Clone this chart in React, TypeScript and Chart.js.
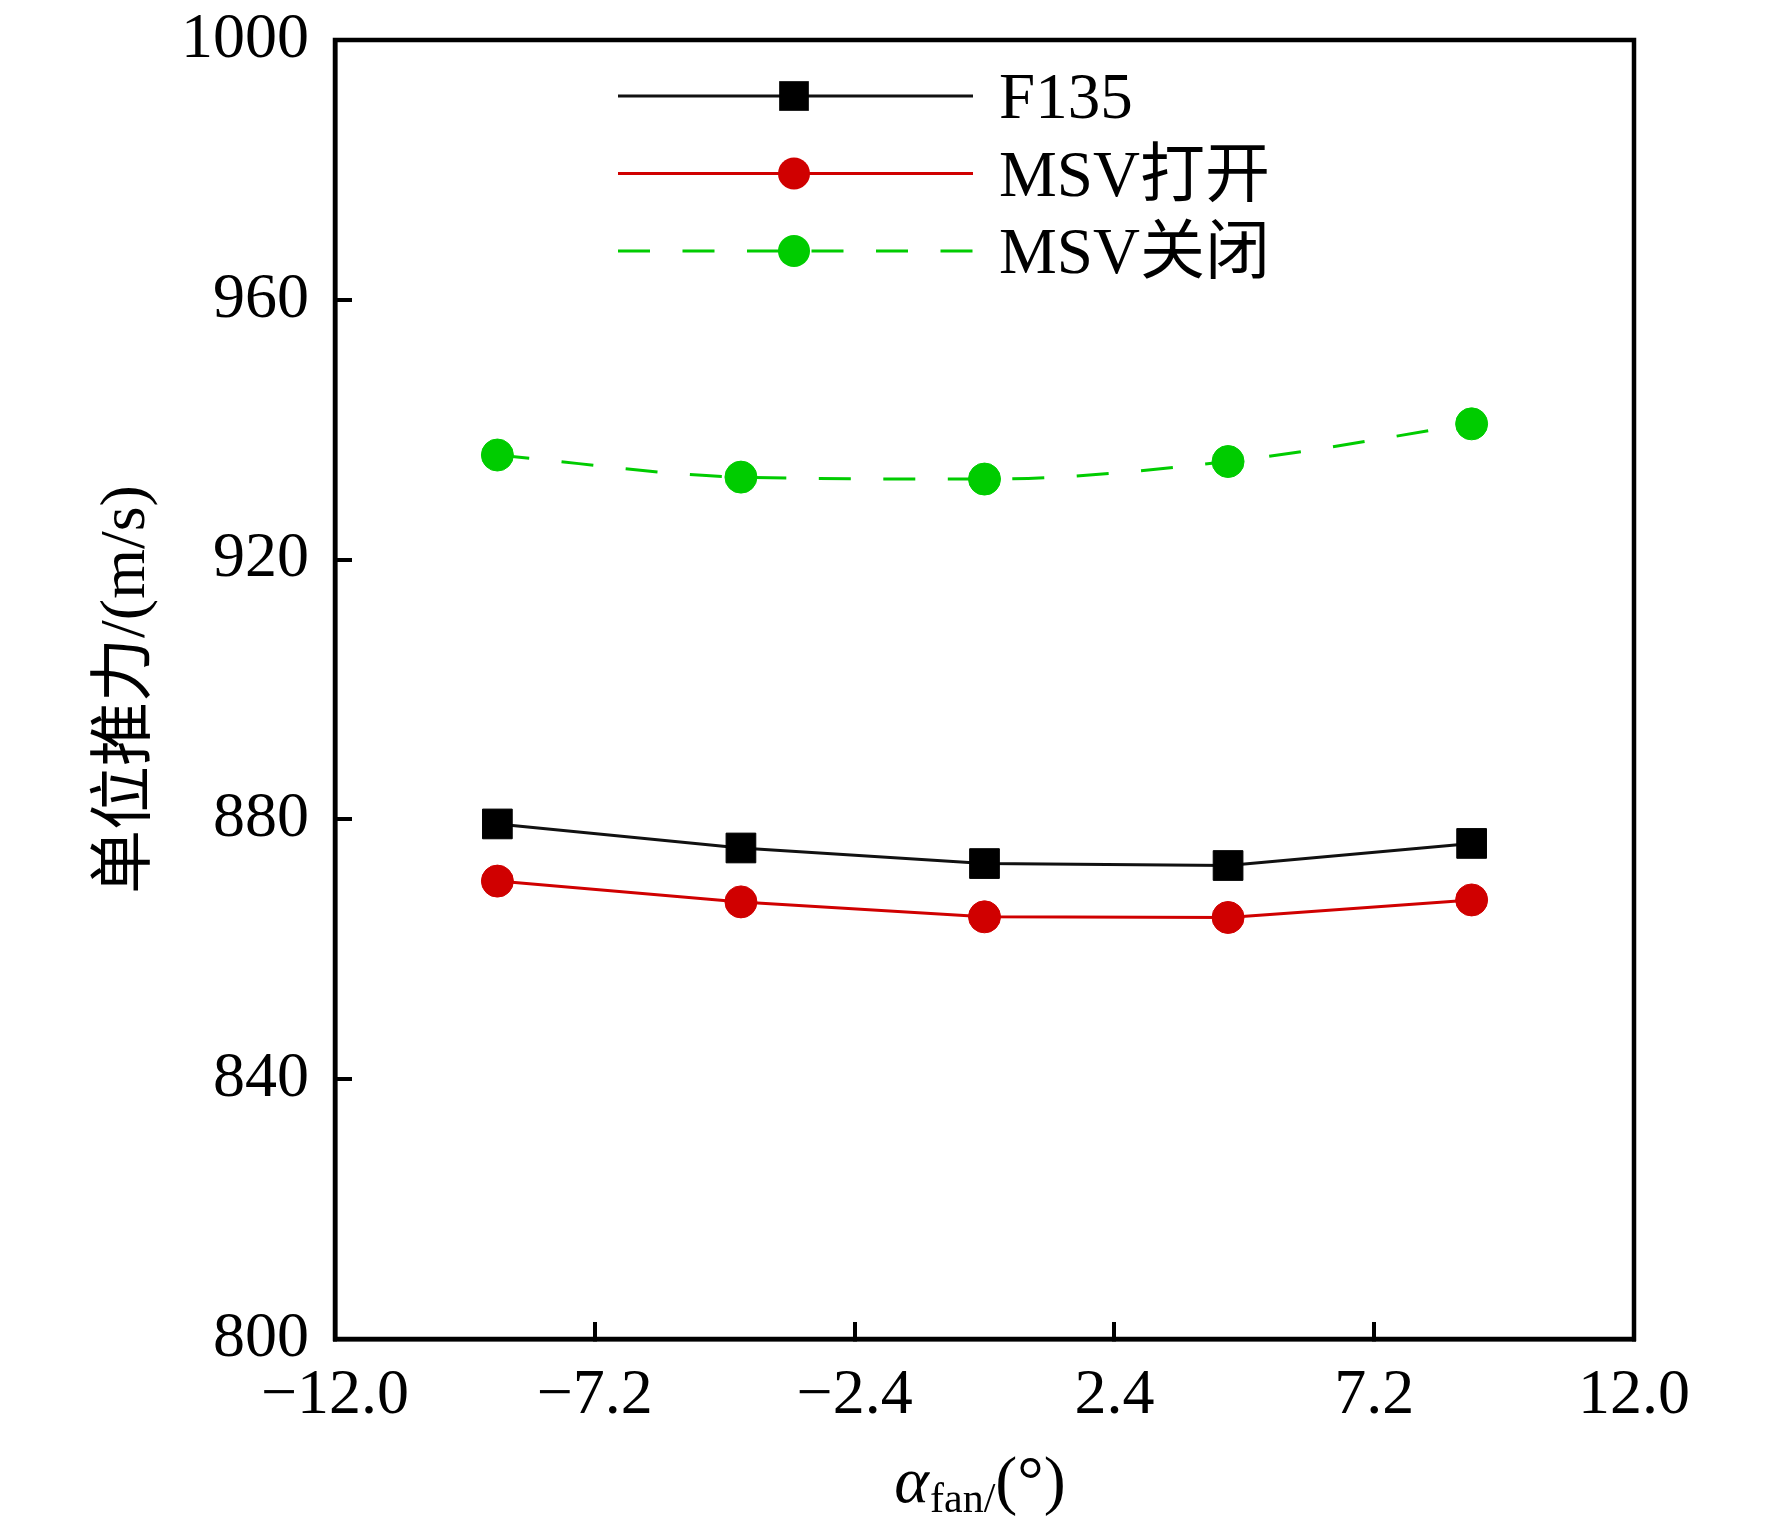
import { useEffect, useRef } from "react";
import { Chart, registerables } from "chart.js";

Chart.register(...registerables);

// data
const alphaFan = [-9, -4.5, 0, 4.5, 9];
const f135 = [879.3, 875.6, 873.2, 872.9, 876.3];
const msvOpen = [870.5, 867.3, 865.0, 864.9, 867.6];
const msvClosed = [936.1, 932.7, 932.4, 935.1, 940.9];
const seriesLabels = ["F135", "MSV打开", "MSV关闭"];
const xTicks = [-12, -7.2, -2.4, 2.4, 7.2, 12];
const yTicks = [800, 840, 880, 920, 960, 1000];
const yTitle = "单位推力/(m/s)";

const SERIF = '"Liberation Serif", "Noto Sans CJK SC", serif';

const fmtX = (v: number) => (v < 0 ? "\u2212" : "") + Math.abs(v).toFixed(1);

const decorPlugin = {
    id: "decor",
    afterDraw(chart: any) {
        const { ctx, chartArea: a } = chart;
        ctx.save();

        // box frame
        ctx.strokeStyle = "#000";
        ctx.lineWidth = 4.5;
        ctx.setLineDash([]);
        ctx.strokeRect(a.left, a.top, a.right - a.left, a.bottom - a.top);

        // legend: line with a marker in the middle, then the label
        chart.data.datasets.forEach((ds: any, i: number) => {
            const y = a.top + 56 + i * 77.5;
            const x0 = a.left + 283;
            const x1 = a.left + 638;
            const xm = a.left + 459;
            ctx.beginPath();
            ctx.setLineDash(ds.borderDash || []);
            ctx.lineWidth = ds.borderWidth;
            ctx.strokeStyle = ds.borderColor;
            ctx.moveTo(x0, y);
            ctx.lineTo(x1, y);
            ctx.stroke();
            ctx.setLineDash([]);

            ctx.fillStyle = ds.pointBackgroundColor;
            ctx.beginPath();
            if (ds.pointStyle === "rect") {
                const s = ds.pointRadius * Math.SQRT1_2;
                ctx.rect(xm - s, y - s, 2 * s, 2 * s);
            } else {
                ctx.arc(xm, y, ds.pointRadius, 0, Math.PI * 2);
            }
            ctx.fill();

            ctx.fillStyle = "#000";
            ctx.font = `65px ${SERIF}`;
            ctx.textAlign = "left";
            ctx.textBaseline = "alphabetic";
            ctx.fillText(ds.label, a.left + 664, y + 22);
        });

        // x axis title: italic alpha, subscript "fan/", then "(°)"
        const mainFont = `italic 66px ${SERIF}`;
        const subFont = `42px ${SERIF}`;
        const tailFont = `66px ${SERIF}`;
        ctx.textBaseline = "alphabetic";
        ctx.textAlign = "left";
        ctx.font = mainFont;
        const wA = ctx.measureText("α").width;
        ctx.font = subFont;
        const wS = ctx.measureText("fan/").width;
        ctx.font = tailFont;
        const wT = ctx.measureText("(°)").width;
        let x = (a.left + a.right) / 2 - 5 - (wA + wS + wT) / 2;
        const base = a.bottom + 163;
        ctx.fillStyle = "#000";
        ctx.font = mainFont;
        ctx.fillText("α", x, base);
        x += wA + 1;
        ctx.font = subFont;
        ctx.fillText("fan/", x, base + 10);
        x += wS;
        ctx.font = tailFont;
        ctx.fillText("(°)", x, base);

        ctx.restore();
    },
};

const App = () => {
    const canvasRef = useRef<HTMLCanvasElement>(null);

    useEffect(() => {
        if (!canvasRef.current) return;
        const chart = new Chart(canvasRef.current, {
            type: "line",
            data: {
                datasets: [
                    {
                        label: seriesLabels[0],
                        data: alphaFan.map((x, i) => ({ x, y: f135[i] })),
                        borderColor: "#111111",
                        borderWidth: 3,
                        pointStyle: "rect",
                        pointRadius: 21,
                        pointBackgroundColor: "#000000",
                        pointBorderColor: "#000000",
                        pointBorderWidth: 1,
                        tension: 0,
                    },
                    {
                        label: seriesLabels[1],
                        data: alphaFan.map((x, i) => ({ x, y: msvOpen[i] })),
                        borderColor: "#d00000",
                        borderWidth: 3,
                        pointStyle: "circle",
                        pointRadius: 16,
                        pointBackgroundColor: "#d00000",
                        pointBorderColor: "#d00000",
                        pointBorderWidth: 1,
                        tension: 0,
                    },
                    {
                        label: seriesLabels[2],
                        data: alphaFan.map((x, i) => ({ x, y: msvClosed[i] })),
                        borderColor: "#00cc00",
                        borderWidth: 3,
                        borderDash: [32, 32.5],
                        pointStyle: "circle",
                        pointRadius: 16,
                        pointBackgroundColor: "#00cc00",
                        pointBorderColor: "#00cc00",
                        pointBorderWidth: 1,
                        cubicInterpolationMode: "monotone",
                    },
                ],
            },
            options: {
                animation: false,
                responsive: false,
                devicePixelRatio: 1,
                layout: { padding: { left: 0, top: 40, right: 138, bottom: 0 } },
                plugins: {
                    legend: { display: false },
                    tooltip: { enabled: false },
                },
                scales: {
                    x: {
                        type: "linear",
                        min: -12,
                        max: 12,
                        afterBuildTicks: (scale: any) => {
                            scale.ticks = xTicks.map((value) => ({ value }));
                        },
                        afterFit: (scale: any) => {
                            scale.height = 188;
                            scale.paddingLeft = 0;
                            scale.paddingRight = 0;
                        },
                        grid: {
                            drawOnChartArea: false,
                            drawTicks: true,
                            tickLength: -17,
                            lineWidth: 4,
                            color: "#000",
                        },
                        border: { display: true, color: "#000", width: 4.5 },
                        ticks: {
                            color: "#000",
                            font: { family: SERIF, size: 64 },
                            padding: 36,
                            maxRotation: 0,
                            autoSkip: false,
                            callback: (v: any) => fmtX(Number(v)),
                        },
                    },
                    y: {
                        type: "linear",
                        min: 800,
                        max: 1000,
                        afterBuildTicks: (scale: any) => {
                            scale.ticks = yTicks.map((value) => ({ value }));
                        },
                        afterFit: (scale: any) => {
                            scale.width = 335;
                            scale.paddingTop = 0;
                            scale.paddingBottom = 0;
                        },
                        grid: {
                            drawOnChartArea: false,
                            drawTicks: true,
                            tickLength: -17,
                            lineWidth: 4,
                            color: "#000",
                        },
                        border: { display: true, color: "#000", width: 4.5 },
                        ticks: {
                            color: "#000",
                            font: { family: SERIF, size: 64 },
                            padding: 43,
                            autoSkip: false,
                            callback: (v: any) => String(v),
                        },
                        title: {
                            display: true,
                            text: yTitle,
                            color: "#000",
                            font: { family: SERIF, size: 64 },
                            padding: { top: 89, bottom: 0 },
                        },
                    },
                },
            },
            plugins: [decorPlugin],
        });
        return () => {
            chart.destroy();
        };
    }, []);

    return (
        <div style={{ position: "fixed", left: 0, top: 0, width: "1772px", height: "1527px", background: "#fff" }}>
            <canvas ref={canvasRef} width={1772} height={1527}></canvas>
        </div>
    );
};

export default App;
